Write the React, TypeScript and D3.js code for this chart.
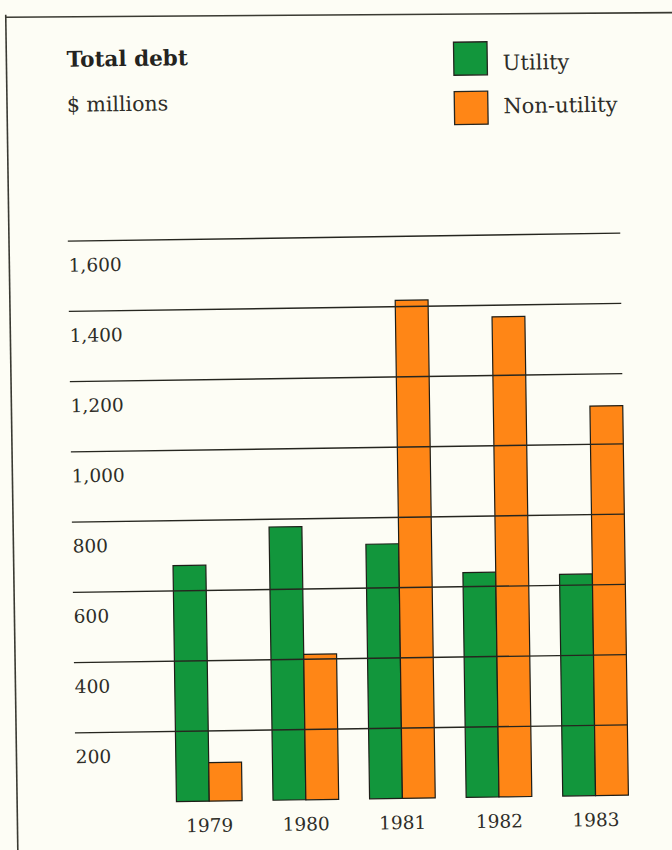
import React from "react";
import * as d3 from "d3";

const years = ["1979", "1980", "1981", "1982", "1983"];
const utility = [672, 778, 725, 640, 631];
const nonUtility = [110, 414, 1418, 1367, 1109];
const tickValues = [200, 400, 600, 800, 1000, 1200, 1400, 1600];
const seriesNames = ["Utility", "Non-utility"];
const seriesColors = ["#12963c", "#ff8616"];

const W = 672;
const H = 850;
const FONT = "'DejaVu Serif', serif";
const INK = "#2e2d28";

export default function App() {
  const y = d3.scaleLinear().domain([0, 1600]).range([799.3, 237.3]);
  const x = d3.scaleBand<string>().domain(years).range([171, 623]).paddingInner(0.32).paddingOuter(0);
  const sub = d3.scaleBand<string>().domain(seriesNames).range([0, x.bandwidth()]).padding(0);
  const fmt = d3.format(",");
  const gridX0 = 70.5;
  const gridX1 = 623;
  const series = [utility, nonUtility];

  return (
    <svg width={W} height={H} style={{ position: "absolute", left: 0, top: 0, display: "block" }}>
      <rect x={0} y={0} width={W} height={H} fill="#fdfdf5" />
      {/* top frame line */}
      <line x1={6} y1={17.2} x2={672} y2={12.6} stroke="#3a3a32" strokeWidth={1.6} />
      <g transform="rotate(-0.83 336 425)">
        {/* left frame line */}
        <line x1={11.7} y1={10} x2={11.7} y2={880} stroke="#3a3a32" strokeWidth={1.6} />

        {/* title */}
        <text x={72} y={63} fontFamily={FONT} fontWeight="bold" fontSize={21.5} fill="#242320">
          Total debt
        </text>
        <text x={71.5} y={108} fontFamily={FONT} fontSize={20.5} fill={INK}>
          $ millions
        </text>

        {/* legend */}
        {seriesNames.map((name, i) => (
          <g key={name}>
            <rect
              x={459}
              y={44 + i * 49.4}
              width={33.5}
              height={33}
              fill={seriesColors[i]}
              stroke="#262620"
              strokeWidth={1.3}
            />
            <text x={508} y={[72.4, 115.7][i]} fontFamily={FONT} fontSize={21} fill={INK}>
              {name}
            </text>
          </g>
        ))}

        {/* bars */}
        {years.map((yr, gi) => (
          <g key={yr} transform={`translate(${x(yr)},0)`}>
            {series.map((vals, si) => (
              <rect
                key={si}
                x={sub(seriesNames[si])}
                y={y(vals[gi])}
                width={sub.bandwidth()}
                height={y(0) - y(vals[gi])}
                fill={seriesColors[si]}
                stroke="#1e1e18"
                strokeWidth={1.2}
              />
            ))}
          </g>
        ))}

        {/* gridlines (drawn over bars) */}
        {tickValues.map((t) => (
          <g key={t}>
            <line x1={gridX0} x2={gridX1} y1={y(t)} y2={y(t)} stroke="#26261f" strokeWidth={1.4} />
            <text x={71} y={y(t) + 30.5} fontFamily={FONT} fontSize={18.5} fill={INK}>
              {fmt(t)}
            </text>
          </g>
        ))}

        {/* year labels */}
        {years.map((yr) => (
          <text
            key={yr}
            x={(x(yr) as number) + x.bandwidth() / 2}
            y={830}
            textAnchor="middle"
            fontFamily={FONT}
            fontSize={18.5}
            fill={INK}
          >
            {yr}
          </text>
        ))}
      </g>
    </svg>
  );
}
